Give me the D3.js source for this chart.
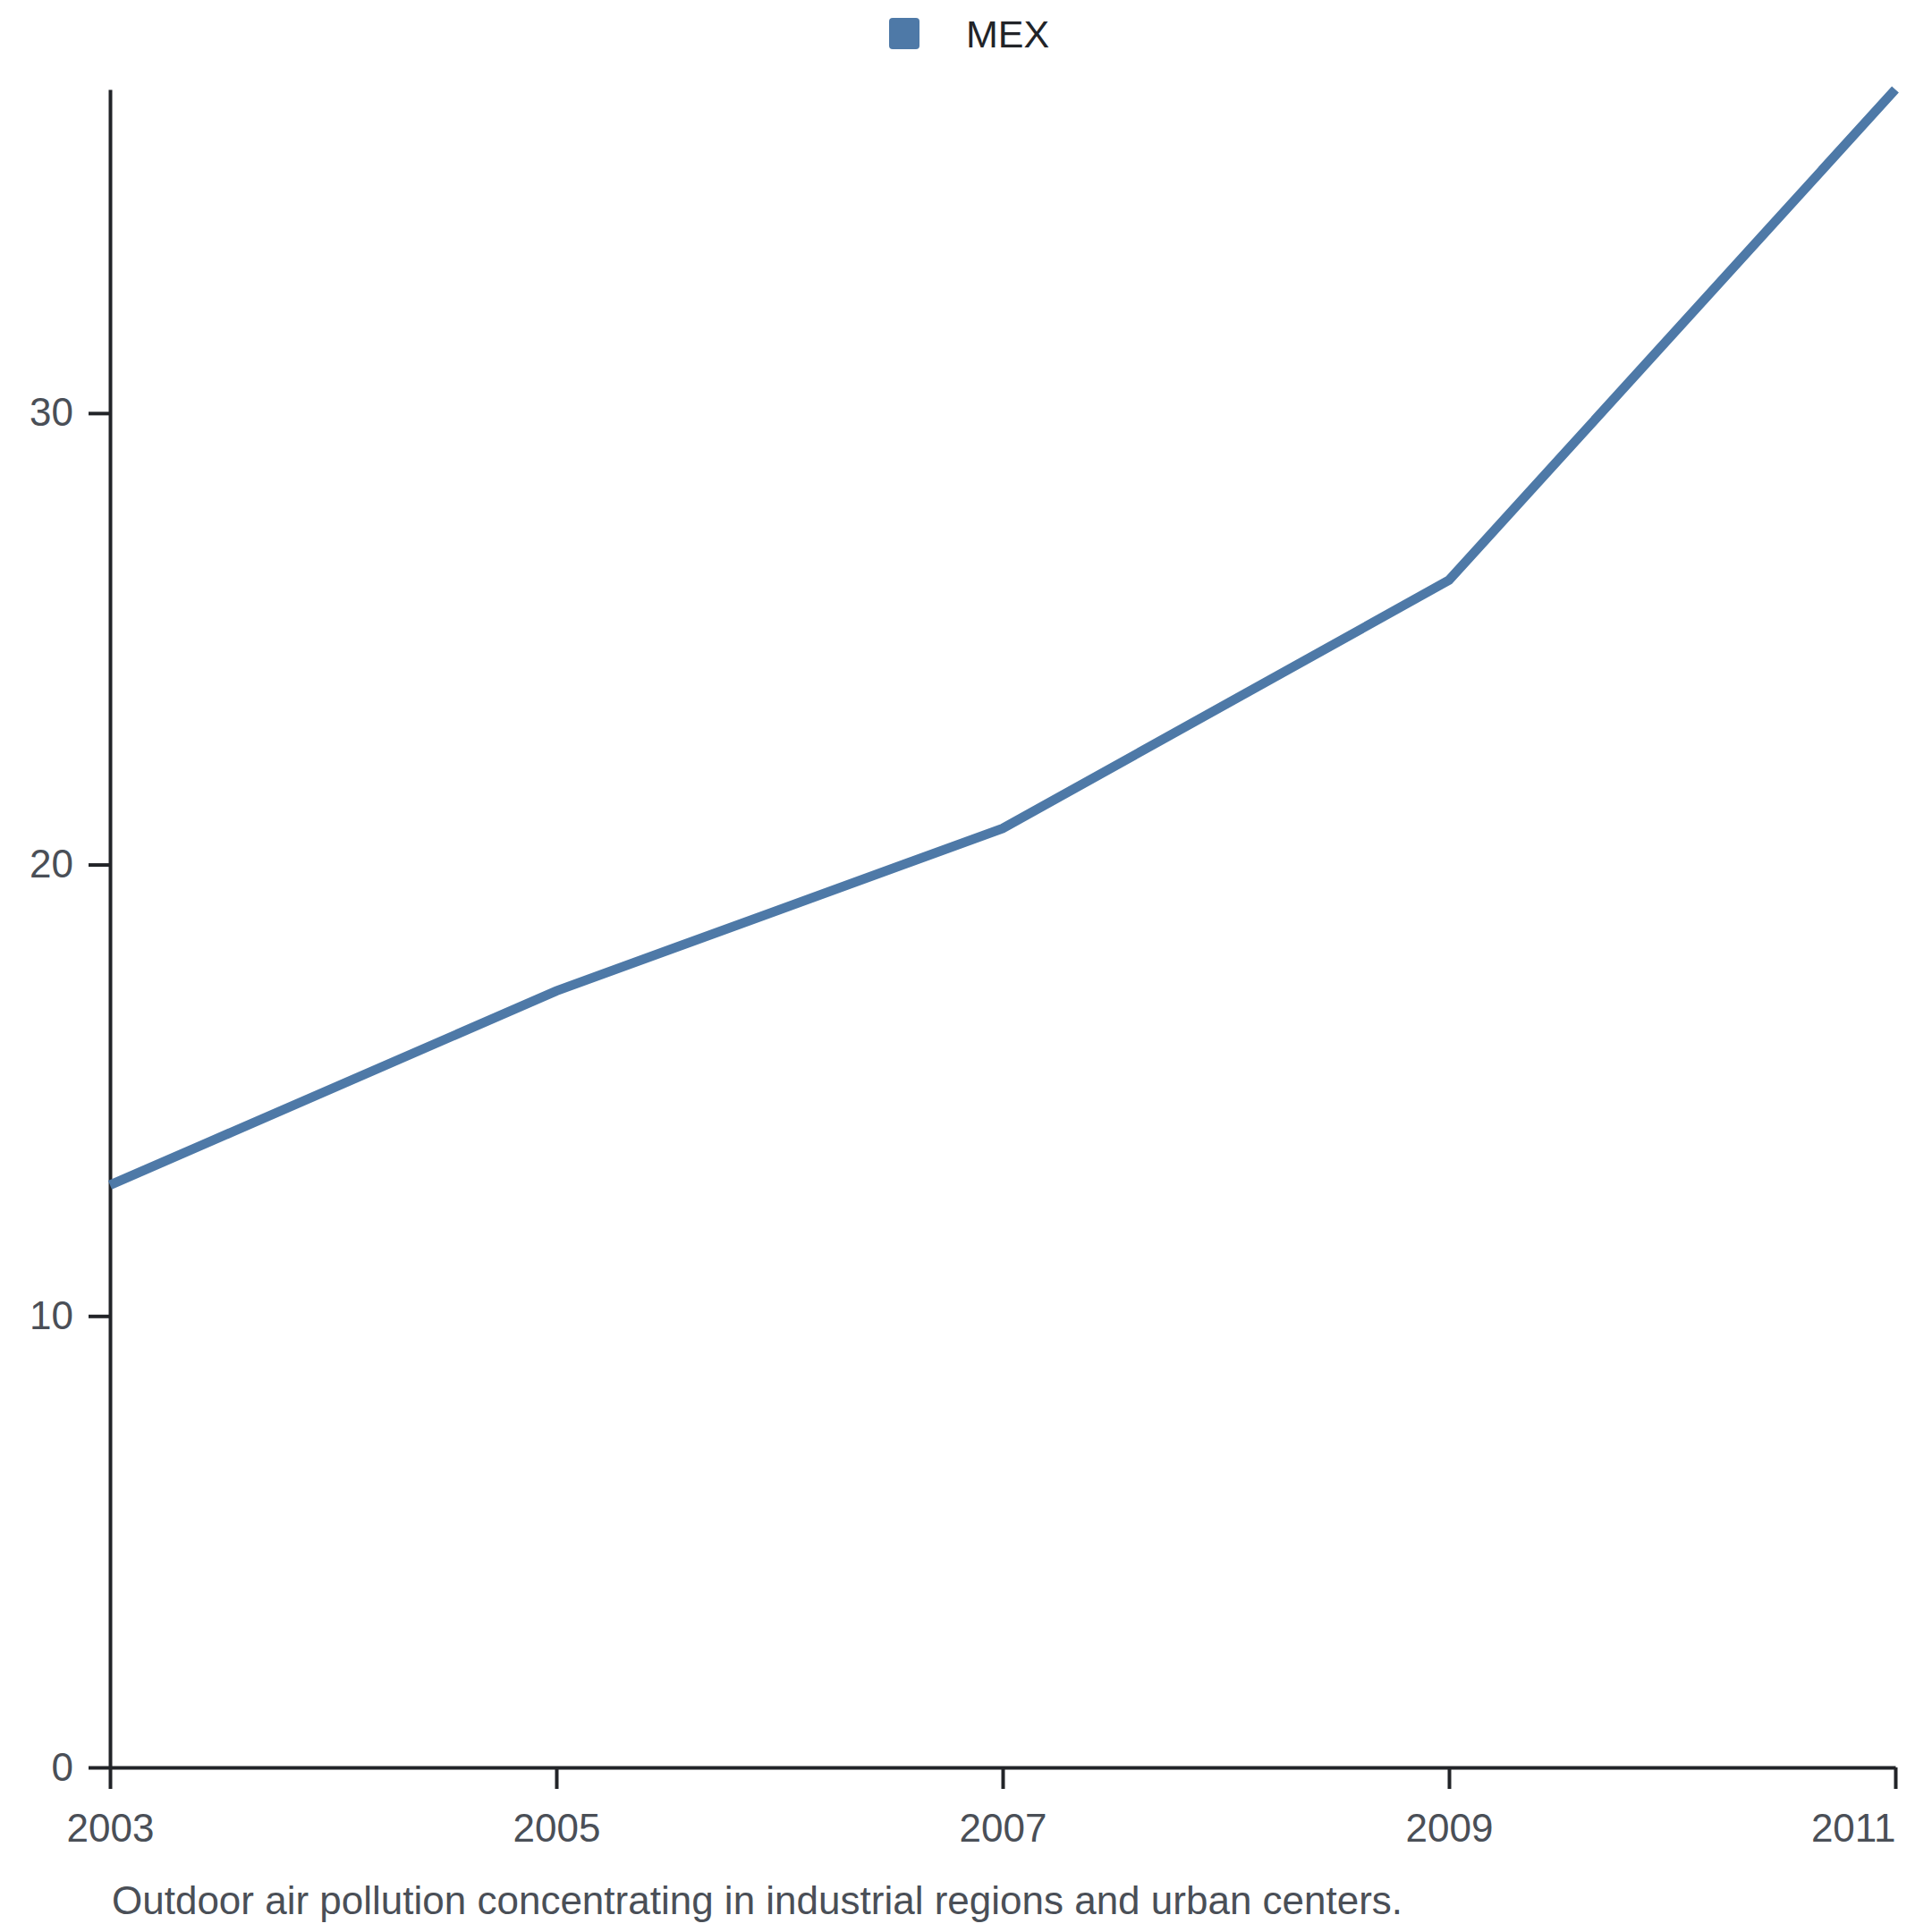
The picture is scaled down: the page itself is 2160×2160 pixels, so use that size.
<!DOCTYPE html>
<html>
<head>
<meta charset="utf-8">
<script src="https://cdn.jsdelivr.net/npm/d3@7"></script>
<style>
  html, body { margin: 0; padding: 0; background: #ffffff; }
  svg { display: block; font-family: "Liberation Sans", Arial, sans-serif; }
</style>
</head>
<body>
<svg id="chart" width="2160" height="2160"></svg>
<script>
const years = [2003, 2005, 2007, 2009, 2011];
const mexValues = [12.9, 17.2, 20.8, 26.3, 37.17];
const seriesName = "MEX";
const xTickValues = [2003, 2005, 2007, 2009, 2011];
const yTickValues = [0, 10, 20, 30];
const caption = "Outdoor air pollution concentrating in industrial regions and urban centers.";

const W = 2160, H = 2160;
const margin = { top: 100, right: 41, bottom: 184, left: 123 };
const svg = d3.select("#chart");

const x = d3.scaleLinear()
  .domain(d3.extent(years))
  .range([margin.left, W - margin.right]);
const y = d3.scaleLinear()
  .domain([0, d3.max(mexValues)])
  .range([H - margin.bottom, margin.top]);

const axisColor = "#222428";
const textColor = "#4a4f57";

// X axis
const gx = svg.append("g")
  .attr("transform", `translate(0,${H - margin.bottom})`)
  .call(d3.axisBottom(x).tickValues(xTickValues).tickFormat(d3.format("d")).tickSize(24).tickSizeOuter(0).tickPadding(28));
gx.select(".domain").attr("stroke", axisColor).attr("stroke-width", 4);
gx.selectAll(".tick line").attr("stroke", axisColor).attr("stroke-width", 4);
gx.selectAll(".tick text")
  .attr("fill", textColor).attr("font-size", 44)
  .attr("text-anchor", (d, i, n) => i === n.length - 1 ? "end" : "middle");

// Y axis
const gy = svg.append("g")
  .attr("transform", `translate(${margin.left},0)`)
  .call(d3.axisLeft(y).tickValues(yTickValues).tickSize(24).tickSizeOuter(0).tickPadding(17));
gy.select(".domain").attr("stroke", axisColor).attr("stroke-width", 4);
gy.selectAll(".tick line").attr("stroke", axisColor).attr("stroke-width", 4);
gy.selectAll(".tick text").attr("fill", textColor).attr("font-size", 44);

// Line
const data = years.map((yr, i) => ({ year: yr, value: mexValues[i] }));
const line = d3.line().x(d => x(d.year)).y(d => y(d.value));
svg.append("path")
  .datum(data)
  .attr("d", line)
  .attr("fill", "none")
  .attr("stroke", "#4e79a7")
  .attr("stroke-width", 10.5)
  .attr("stroke-linejoin", "miter")
  .attr("stroke-linecap", "butt");

// Legend
const lg = svg.append("g");
lg.append("rect")
  .attr("x", 994).attr("y", 20).attr("width", 34).attr("height", 35)
  .attr("rx", 4).attr("fill", "#4e79a7");
lg.append("text")
  .attr("x", 1080).attr("y", 53)
  .attr("font-size", 43).attr("fill", "#222428")
  .text(seriesName);

// Caption
svg.append("text")
  .attr("x", 125).attr("y", 2140)
  .attr("font-size", 44).attr("fill", textColor)
  .text(caption);
</script>
</body>
</html>
